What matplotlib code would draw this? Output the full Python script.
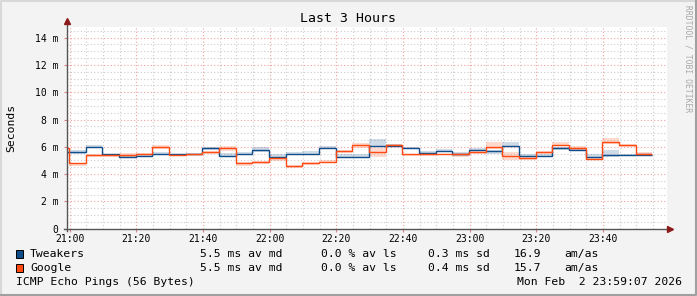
import numpy as np
import matplotlib
matplotlib.use("Agg")
import matplotlib.pyplot as plt
from matplotlib.patches import Rectangle

# --- data (minutes after 21:00, 5 min steps, first step is the partial one) ---
view_start = -0.88          # 20:59:07
view_end = 179.12           # 23:59:07
step_offset = -0.2
step_min = 5

tweakers = [5.59, 5.59, 6.00, 5.44, 5.22, 5.32, 5.46, 5.44, 5.46, 5.88,
            5.32, 5.44, 5.80, 5.27, 5.44, 5.51, 5.95, 5.29, 5.29, 6.07,
            6.07, 5.88, 5.56, 5.73, 5.46, 5.80, 5.68, 6.07, 5.34, 5.34,
            5.88, 5.76, 5.24, 5.37, 5.37, 5.37]
tweakers_up = [0.15, 0.15, 0.12, 0.07, 0.17, 0.12, 0.17, 0.07, 0.12, 0.10,
               0.20, 0.20, 0.17, 0.17, 0.15, 0.20, 0.12, 0.17, 0.17, 0.50,
               0.17, 0.12, 0.12, 0.10, 0.17, 0.12, 0.07, 0.30, 0.17, 0.17,
               0.10, 0.12, 0.27, 0.40, 0.07, 0.15]
tweakers_dn = [0.10, 0.10, 0.12, 0.10, 0.07, 0.07, 0.02, 0.05, 0.07, 0.12,
               0.05, 0.05, 0.17, 0.07, 0.05, 0.07, 0.07, 0.02, 0.02, 0.07,
               0.07, 0.05, 0.12, 0.10, 0.12, 0.07, 0.17, 0.07, 0.07, 0.07,
               0.10, 0.07, 0.05, 0.12, 0.02, 0.02]

google = [5.88, 4.78, 5.37, 5.39, 5.41, 5.51, 6.00, 5.39, 5.44, 5.59,
          5.95, 4.78, 4.88, 5.15, 4.63, 4.78, 4.90, 5.68, 6.15, 5.61,
          6.10, 5.44, 5.44, 5.46, 5.46, 5.59, 5.98, 5.34, 5.15, 5.61,
          6.15, 5.95, 5.10, 6.32, 6.10, 5.49]
google_up = [0.10, 0.07, 0.07, 0.12, 0.17, 0.07, 0.12, 0.07, 0.07, 0.10,
             0.10, 0.12, 0.07, 0.12, 0.07, 0.12, 0.12, 0.07, 0.10, 0.27,
             0.10, 0.07, 0.07, 0.05, 0.12, 0.10, 0.35, 0.25, 0.12, 0.10,
             0.22, 0.10, 0.12, 0.30, 0.10, 0.15]
google_dn = [0.10, 0.17, 0.10, 0.12, 0.15, 0.12, 0.17, 0.07, 0.10, 0.10,
             0.27, 0.17, 0.17, 0.20, 0.17, 0.12, 0.07, 0.10, 0.22, 0.35,
             0.10, 0.10, 0.10, 0.07, 0.20, 0.10, 0.15, 0.30, 0.15, 0.12,
             0.10, 0.20, 0.10, 0.15, 0.10, 0.10]

x_tick_labels = ["21:00", "21:20", "21:40", "22:00", "22:20", "22:40",
                 "23:00", "23:20", "23:40"]
y_ticks = [0, 2, 4, 6, 8, 10, 12, 14]

legend_names = ["Tweakers", "Google"]
legend_md = ["5.5 ms av md", "5.5 ms av md"]
legend_ls = ["0.0 % av ls", "0.0 % av ls"]
legend_sd = ["0.3 ms sd", "0.4 ms sd"]
legend_amas = ["16.9", "15.7"]

BLUE = "#0f4d8a"
ORANGE = "#ff4a12"
W, H = 697, 296
MONO = "DejaVu Sans Mono"


def fx(px):
    return px / W


def fy(py):
    return 1 - py / H


fig = plt.figure(figsize=(W / 100, H / 100), dpi=100, facecolor="#f3f3f3")
ax = fig.add_axes([fx(66.7), fy(228.7), (666.7 - 66.7) / W, (228.7 - 27) / H])
ax.set_facecolor("white")

n = len(tweakers)
edges = np.concatenate([[view_start], np.arange(n) * step_min + step_offset])
t = np.array(tweakers); g = np.array(google)

ax.stairs(t + np.array(tweakers_up), edges, baseline=t - np.array(tweakers_dn),
          fill=True, color=BLUE, alpha=0.2, lw=0, zorder=2)
ax.stairs(g + np.array(google_up), edges, baseline=g - np.array(google_dn),
          fill=True, color=ORANGE, alpha=0.2, lw=0, zorder=2)
ax.stairs(t, edges, baseline=None, color=BLUE, lw=1.0, zorder=4)
ax.stairs(g, edges, baseline=None, color=ORANGE, lw=1.0, zorder=4)

ax.set_xlim(view_start, view_end)
ax.set_ylim(0, 14.78)

# grid
for m in np.arange(0, view_end, 5):
    major = m % 20 == 0
    ax.axvline(m, color="#f2a0a0" if major else "#cccccc", lw=0.8,
               ls=(0, (1, 2)), zorder=1)
for v in np.arange(0.5, 14.78, 0.5):
    major = v % 2 == 0
    ax.axhline(v, color="#f2a0a0" if major else "#cccccc", lw=0.8,
               ls=(0, (1, 2)), zorder=1)

for s in ax.spines.values():
    s.set_visible(False)
ax.set_xticks(np.arange(len(x_tick_labels)) * 20)
ax.set_xticklabels(x_tick_labels, family=MONO, fontsize=7)
ax.set_yticks(y_ticks)
ax.set_yticklabels([f"{v} m" if v else "0" for v in y_ticks], family=MONO, fontsize=7)
ax.tick_params(axis="x", length=2, width=0.8, color="#e08080", pad=2)
ax.tick_params(axis="y", length=2, width=0.8, color="#e08080", pad=4)

# axes with arrows
ax.plot([0, 0], [-0.012, 1.03], transform=ax.transAxes, color="#555555",
        lw=1, clip_on=False, zorder=5)
ax.plot([-0.005, 1.006], [0, 0], transform=ax.transAxes, color="#555555",
        lw=1, clip_on=False, zorder=5)
ax.plot([0], [1.03], marker="^", ms=4, color="#8b1a1a", transform=ax.transAxes,
        clip_on=False, zorder=6)
ax.plot([1.006], [0], marker=">", ms=4, color="#8b1a1a", transform=ax.transAxes,
        clip_on=False, zorder=6)

fig.text(fx(348), fy(19), "Last 3 Hours", family=MONO, fontsize=9.5,
         ha="center", va="center")
fig.text(fx(11), fy(128), "Seconds", family=MONO, fontsize=8.2,
         rotation=90, ha="center", va="center")
fig.text(fx(688), fy(59), "RRDTOOL / TOBI OETIKER", family=MONO, fontsize=5.8,
         rotation=270, ha="center", va="center", color="#a8a8a8")

# legend
for i, (name, col) in enumerate(zip(legend_names, [BLUE, ORANGE])):
    yc = 254 + i * 14
    fig.patches.append(Rectangle((fx(15.5), fy(yc + 4)), 7 / W, 8 / H,
                                 transform=fig.transFigure, facecolor=col,
                                 edgecolor="black", lw=0.7))
    kw = dict(family=MONO, fontsize=8.2, va="center")
    fig.text(fx(30), fy(yc), name, **kw)
    fig.text(fx(200), fy(yc), legend_md[i], **kw)
    fig.text(fx(321), fy(yc), legend_ls[i], **kw)
    fig.text(fx(428), fy(yc), legend_sd[i], **kw)
    fig.text(fx(514), fy(yc), legend_amas[i], **kw)
    fig.text(fx(564), fy(yc), "am/as", **kw)

fig.text(fx(16), fy(282), "ICMP Echo Pings (56 Bytes)", family=MONO,
         fontsize=8.2, va="center")
fig.text(fx(682), fy(282), "Mon Feb  2 23:59:07 2026", family=MONO,
         fontsize=8.2, va="center", ha="right")

# frame
fig.add_artist(plt.Line2D([fx(0.5), fx(0.5), fx(W - 1)], [fy(H - 1), fy(0.5), fy(0.5)],
                          color="#d8d8d8", lw=1.5))
fig.add_artist(plt.Line2D([fx(0.5), fx(W - 1), fx(W - 1)], [fy(H - 1.5), fy(H - 1.5), fy(0.5)],
                          color="#a0a0a0", lw=1.5))

fig.savefig("out.png", dpi=100, facecolor=fig.get_facecolor())
